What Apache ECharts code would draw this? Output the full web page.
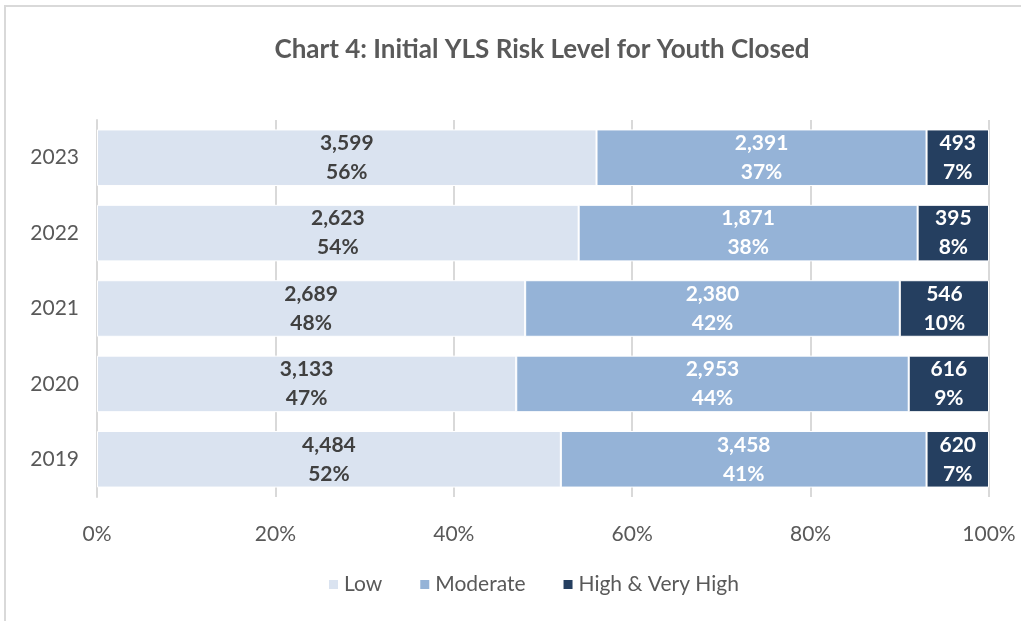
<!DOCTYPE html>
<html>
<head>
<meta charset="utf-8">
<script src="https://cdn.jsdelivr.net/npm/echarts@6/dist/echarts.min.js"></script>
<style>
  html, body { margin: 0; padding: 0; background: #fff; }
  #frame { position: absolute; left: 4px; top: 5px; width: 1100px; height: 700px;
    border-left: 2px solid #d9d9d9; border-top: 2px solid #d9d9d9; }
  #chart { position: absolute; left: 0; top: 0; width: 1021px; height: 621px; }
</style>
</head>
<body>
<div id="frame"></div>
<div id="chart"></div>
<script>
// years, bottom to top
var years = ['2019', '2020', '2021', '2022', '2023']
var seriesNames = ['Low', 'Moderate', 'High & Very High']
var colors = ['#dae3f0', '#95b3d7', '#253f60']
var labelColors = ['#404040', '#ffffff', '#ffffff']

// counts per year
var lowCounts = [4484, 3133, 2689, 2623, 3599]
var moderateCounts = [3458, 2953, 2380, 1871, 2391]
var highCounts = [620, 616, 546, 395, 493]

// percentages (rounded, as shown)
var lowPct = [52, 47, 48, 54, 56]
var moderatePct = [41, 44, 42, 38, 37]
var highPct = [7, 9, 10, 8, 7]

var xTicks = [0, 20, 40, 60, 80, 100]

var counts = [lowCounts, moderateCounts, highCounts]
var pcts = [lowPct, moderatePct, highPct]

var font = 'Lato, "Open Sans", sans-serif'

var chart = echarts.init(document.getElementById('chart'))

var series = seriesNames.map(function(name, s) {
  return {
    name: name,
    type: 'bar',
    stack: 'total',
    barCategoryGap: '25%',
    itemStyle: { color: colors[s], borderColor: '#ffffff', borderWidth: 1 },
    label: {
      show: true,
      position: 'inside',
      color: labelColors[s],
      fontFamily: font,
      fontWeight: 'bold',
      fontSize: 21,
      lineHeight: 29,
      formatter: function(p) {
        return counts[s][p.dataIndex].toLocaleString('en-US') + '\n' + p.value + '%'
      }
    },
    emphasis: { disabled: true },
    data: pcts[s]
  }
})

chart.setOption({
  animation: false,
  title: {
    text: 'Chart 4: Initial YLS Risk Level for Youth Closed',
    left: 537,
    textAlign: 'center',
    top: 32,
    textStyle: { fontFamily: font, fontWeight: 'bold', fontSize: 26, color: '#595959' }
  },
  legend: {
    bottom: 21,
    left: 322,
    itemWidth: 11,
    itemHeight: 11,
    itemGap: 36,
    icon: 'rect',
    textStyle: { fontFamily: font, fontSize: 21, color: '#595959' },
    data: seriesNames
  },
  grid: { left: 97, right: 32, top: 120, bottom: 124, containLabel: false },
  xAxis: {
    type: 'value',
    min: 0,
    max: 100,
    interval: 20,
    axisLine: { show: false },
    axisTick: { show: false },
    splitLine: { lineStyle: { color: '#d9d9d9', width: 2 } },
    axisLabel: {
      margin: 27,
      fontFamily: font,
      fontSize: 21,
      color: '#595959',
      formatter: function(v) { return xTicks.indexOf(v) >= 0 ? v + '%' : '' }
    }
  },
  yAxis: {
    type: 'category',
    data: years,
    axisLine: { show: true, lineStyle: { color: '#d9d9d9', width: 2 } },
    axisTick: { show: false },
    axisLabel: { margin: 18, fontFamily: font, fontSize: 21, color: '#595959' }
  },
  series: series
})
</script>
</body>
</html>
